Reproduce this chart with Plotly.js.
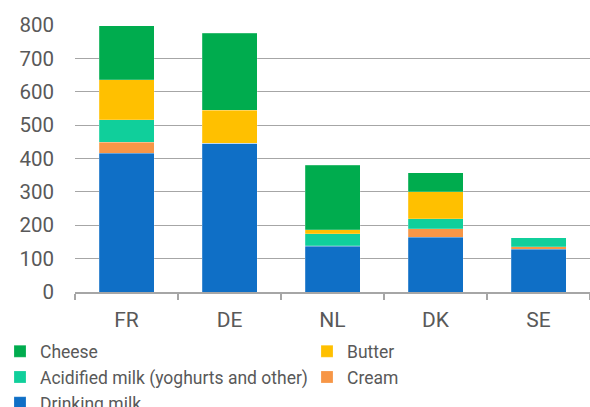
<!DOCTYPE html>
<html>
<head>
<meta charset="utf-8">
<script src="https://cdn.plot.ly/plotly-3.0.1.min.js"></script>
<style>html,body{margin:0;padding:0;background:#fff;}#chart{width:590px;height:407px;}</style>
</head>
<body>
<div id="chart"></div>
<script>
var countries = ["FR", "DE", "NL", "DK", "SE"];
var drinkingMilk = [416, 446, 137, 164, 128];
var cream = [32, 0, 2, 25, 8];
var acidifiedMilk = [68, 0, 36, 30, 27];
var butter = [120, 98, 12, 82, 0];
var cheese = [162, 231, 193, 56, 0];
var yTicks = [0, 100, 200, 300, 400, 500, 600, 700, 800];

var FONT = "Roboto, sans-serif";
function tr(name, vals, color, leg) {
  return {type: "bar", name: name, x: countries, y: vals, legend: leg,
    marker: {color: color, line: {color: "rgba(255,255,255,0.4)", width: 0.5}},
    hoverinfo: "skip"};
}
var data = [
  tr("Drinking milk", drinkingMilk, "#0f6fc6", "legend"),
  tr("Cream", cream, "#f79646", "legend2"),
  tr("Acidified milk (yoghurts and other)", acidifiedMilk, "#10cf9b", "legend"),
  tr("Butter", butter, "#ffc000", "legend2"),
  tr("Cheese", cheese, "#00ac4e", "legend")
];
var legBase = {
  orientation: "v", traceorder: "reversed",
  xref: "container", yref: "container",
  xanchor: "left", y: 0.181, yanchor: "top",
  font: {family: FONT, size: 17.5, color: "#595959"},
  itemwidth: 30, tracegroupgap: 0, bgcolor: "rgba(0,0,0,0)", borderwidth: 0
};
var leg1 = Object.assign({}, legBase, {x: 0.0});
var leg2 = Object.assign({}, legBase, {x: 307 / 590});
var layout = {
  width: 590, height: 407,
  margin: {l: 75, r: 0, t: 25, b: 115, autoexpand: false},
  barmode: "stack",
  bargap: 0.466,
  paper_bgcolor: "#fff", plot_bgcolor: "#fff",
  font: {family: FONT, color: "#595959", size: 20},
  showlegend: true,
  xaxis: {
    type: "category",
    showline: true, linecolor: "#a6a6a6", linewidth: 1.5,
    ticks: "outside", tickson: "boundaries", ticklen: 6, tickcolor: "#a6a6a6", tickwidth: 1.5,
    ticklabelstandoff: 8,
    tickfont: {family: FONT, size: 21, color: "#595959"},
    showgrid: false, zeroline: false, fixedrange: true
  },
  yaxis: {
    range: [0, 800], tickmode: "array", tickvals: yTicks, ticktext: yTicks.map(String),
    showgrid: true, gridcolor: "#a6a6a6", gridwidth: 1.2,
    zeroline: false, showline: false, ticks: "",
    ticklabelstandoff: 20,
    tickfont: {family: FONT, size: 20.5, color: "#595959"}, fixedrange: true
  },
  legend: leg1,
  legend2: leg2
};
Plotly.newPlot("chart", data, layout, {displayModeBar: false, staticPlot: true});
</script>
</body>
</html>
